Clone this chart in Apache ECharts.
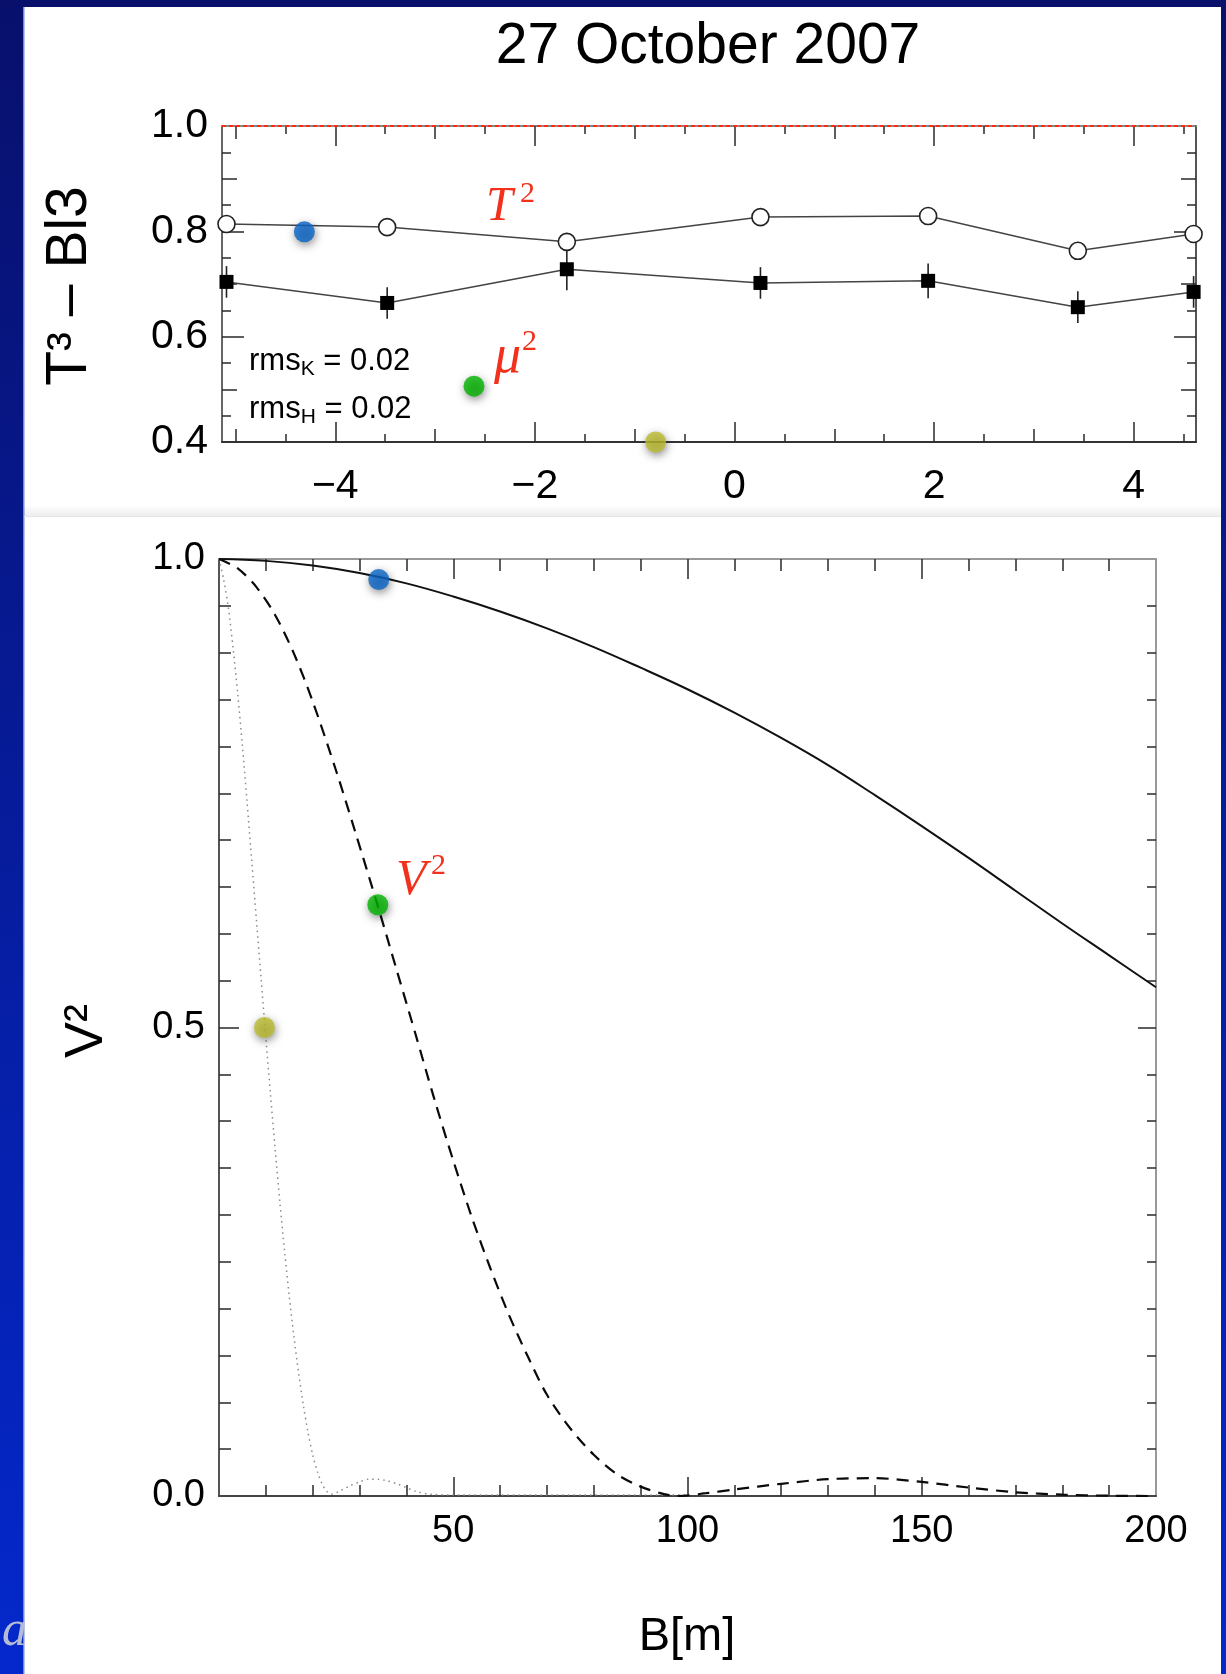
<!DOCTYPE html>
<html>
<head>
<meta charset="utf-8">
<script src="https://cdn.jsdelivr.net/npm/echarts@6/dist/echarts.min.js"></script>
<style>
  html, body { margin: 0; padding: 0; background: #fff; }
  #main { width: 1226px; height: 1674px; }
</style>
</head>
<body>
<div id="main"></div>
<script>
// ---- Upper panel: squared closure amplitudes against hour angle ----
const hourAngle = [-5.09, -3.48, -1.68, 0.26, 1.94, 3.44, 4.60];
const t2Values  = [0.814, 0.808, 0.780, 0.827, 0.829, 0.763, 0.795];
const mu2Values = [0.704, 0.664, 0.728, 0.702, 0.706, 0.656, 0.685];
const mu2Errors = [0.030, 0.030, 0.040, 0.030, 0.033, 0.030, 0.030];
const upperXLabels = [-4, -2, 0, 2, 4];
const upperYLabels = [0.4, 0.6, 0.8, 1.0];
const upperHighlightX = [-4.31, -2.61, -0.79];
const upperHighlightY = [0.799, 0.506, 0.400];

// ---- Lower panel: squared visibility against baseline length ----
const baselineSolid = [0, 10, 20, 30, 40, 50, 60, 70, 80, 90, 100, 110, 120, 130, 140, 150, 160, 170, 180, 190, 200];
const v2Solid = [1.000, 0.998, 0.993, 0.985, 0.974, 0.960, 0.944, 0.926, 0.906, 0.884, 0.861, 0.836, 0.809, 0.780, 0.748, 0.715, 0.681, 0.646, 0.611, 0.577, 0.543];

const baselineDashed = [0, 4, 8, 12, 16, 20, 25, 29, 34, 38, 42, 46, 50, 54, 58, 62, 66, 70, 75, 80, 85, 90, 95, 98, 104, 110, 120, 130, 140, 150, 160, 170, 180, 190, 200];
const v2Dashed = [1.000, 0.990, 0.970, 0.940, 0.899, 0.848, 0.774, 0.710, 0.628, 0.560, 0.492, 0.423, 0.358, 0.297, 0.242, 0.192, 0.148, 0.108, 0.072, 0.044, 0.023, 0.010, 0.002, 0.000, 0.003, 0.007, 0.013, 0.018, 0.019, 0.015, 0.009, 0.004, 0.0015, 0.0003, 0.000];

const baselineDotted = [0, 1, 2, 3, 4, 5, 6, 7, 8, 9, 10, 11, 12, 13, 14, 15, 16, 17, 18, 19, 20, 21, 22, 23, 24, 26, 28, 30, 32, 34, 36, 38, 40, 42, 45, 50, 60, 70, 80, 90, 100];
const v2Dotted = [1.000, 0.978, 0.948, 0.905, 0.856, 0.800, 0.740, 0.677, 0.614, 0.551, 0.489, 0.428, 0.369, 0.313, 0.261, 0.213, 0.170, 0.131, 0.097, 0.068, 0.044, 0.026, 0.013, 0.005, 0.002, 0.006, 0.011, 0.015, 0.018, 0.018, 0.016, 0.013, 0.009, 0.005, 0.002, 0.001, 0.001, 0.001, 0.001, 0.001, 0.001];

const lowerXLabels = [50, 100, 150, 200];
const lowerYLabels = [0.0, 0.5, 1.0];
const lowerHighlightX = [34.1, 33.9, 9.7];
const lowerHighlightY = [0.978, 0.631, 0.500];

// ---- helpers ----
const FONT = '"Liberation Sans", Arial, Helvetica, sans-serif';
const SERIF = '"Liberation Serif", "DejaVu Serif", serif';
const RED = '#f2301c';
const highlightColors = ['#0a64c8', '#00b400', '#bcbc30'];

function steps(from, to, step, skipEvery) {
  const out = [];
  const n = Math.round((to - from) / step);
  for (let i = 0; i <= n; i++) {
    const v = +(from + i * step).toFixed(4);
    if (skipEvery && Math.abs(v / skipEvery - Math.round(v / skipEvery)) < 1e-6) continue;
    out.push(v);
  }
  return out;
}

const xAxes = [];
const yAxes = [];
// Several value axes share one side of a grid so that ticks of different lengths can be drawn.
function addAxisSide(list, grid, pos, min, max, groups, lineColor, labels) {
  const first = list.length;
  groups.forEach((g, i) => {
    const main = i === 0;
    list.push({
      type: 'value', gridIndex: grid, position: pos, min: min, max: max,
      axisLine: { show: main && !!lineColor, onZero: false, lineStyle: { color: lineColor || '#000', width: 2 } },
      axisTick: { show: true, inside: true, length: g.len, customValues: g.values, lineStyle: { color: '#2a2a2a', width: 1.5 } },
      axisLabel: (main && labels) ? Object.assign({ show: true, customValues: labels.values }, labels.style) : { show: false },
      splitLine: { show: false },
      splitArea: { show: false }
    });
  });
  return first;
}

const minus = v => (v < 0 ? '\u2212' + Math.abs(v) : String(v));
const upperLabelStyle = { color: '#000', fontFamily: FONT, fontSize: 41 };
const lowerLabelStyle = { color: '#000', fontFamily: FONT, fontSize: 38 };

// Upper grid axes
const upMin = -5.135, upMax = 4.624;
const upTicksLong = [-4, -2, 0, 2, 4];
const upTicksMid = [-5, -3, -1, 1, 3];
const upTicksShort = steps(-4.5, 4.5, 1);
const upX = addAxisSide(xAxes, 0, 'bottom', upMin, upMax,
  [{ values: upTicksLong, len: 20 }, { values: upTicksMid, len: 13 }, { values: upTicksShort, len: 8 }],
  '#333', { values: upperXLabels, style: Object.assign({ margin: 24, formatter: minus }, upperLabelStyle) });
addAxisSide(xAxes, 0, 'top', upMin, upMax,
  [{ values: upTicksLong, len: 20 }, { values: upTicksMid, len: 13 }, { values: upTicksShort, len: 8 }], '#888');

const upYLong = [0.6, 0.8];
const upYMid = [0.5, 0.7, 0.9];
const upYShort = steps(0.45, 0.95, 0.1);
const upY = addAxisSide(yAxes, 0, 'left', 0.4, 1.0,
  [{ values: upYLong, len: 22 }, { values: upYMid, len: 15 }, { values: upYShort, len: 9 }],
  '#666', { values: upperYLabels, style: Object.assign({ margin: 14, formatter: v => v.toFixed(1) }, upperLabelStyle) });
addAxisSide(yAxes, 0, 'right', 0.4, 1.0,
  [{ values: upYLong, len: 22 }, { values: upYMid, len: 15 }, { values: upYShort, len: 9 }], '#555');

// Lower grid axes
const loXLong = [50, 100, 150];
const loXShort = steps(10, 190, 10, 50);
const loX = addAxisSide(xAxes, 1, 'bottom', 0, 200,
  [{ values: loXLong, len: 19 }, { values: loXShort, len: 11 }],
  '#444', { values: lowerXLabels, style: Object.assign({ margin: 17 }, lowerLabelStyle) });
addAxisSide(xAxes, 1, 'top', 0, 200,
  [{ values: loXLong, len: 20 }, { values: loXShort, len: 12 }], '#999');

const loYLong = [0.5];
const loYShort = steps(0.05, 0.95, 0.05, 0.5);
const loY = addAxisSide(yAxes, 1, 'left', 0, 1,
  [{ values: loYLong, len: 20 }, { values: loYShort, len: 12 }],
  '#555', { values: lowerYLabels, style: Object.assign({ margin: 14, formatter: v => v.toFixed(1) }, lowerLabelStyle) });
addAxisSide(yAxes, 1, 'right', 0, 1,
  [{ values: loYLong, len: 18 }, { values: loYShort, len: 9 }], '#999');

const pairs = (xs, ys) => xs.map((x, i) => [x, ys[i]]);
const dotStyle = { shadowBlur: 9, shadowColor: 'rgba(0,0,0,0.55)', shadowOffsetX: 1, shadowOffsetY: 3 };
const highlights = (xs, ys) => xs.map((x, i) => ({ value: [x, ys[i]], itemStyle: { color: highlightColors[i] } }));

// ---- text decorations ----
const measureCtx = document.createElement('canvas').getContext('2d');
function textWidth(str, size, family) {
  measureCtx.font = size + 'px ' + family;
  return measureCtx.measureText(str).width;
}
function text(x, y, str, size, extra) {
  return {
    type: 'text', x: x, y: y, z: 60,
    style: Object.assign({ text: str, fontSize: size, fontFamily: FONT, fill: '#000', align: 'left', verticalAlign: 'middle' }, extra || {})
  };
}
function rmsLabel(x, y, sub) {
  const w1 = textWidth('rms', 31, FONT);
  const w2 = textWidth(sub, 21, FONT);
  return [
    text(x, y, 'rms', 31),
    text(x + w1, y + 8, sub, 21),
    text(x + w1 + w2, y, ' = 0.02', 31)
  ];
}
const mathItalic = { fontFamily: SERIF, fontStyle: 'italic', fill: RED };
const mathUpright = { fontFamily: SERIF, fill: RED };

const graphics = [
  // frame around the white page
  { type: 'rect', z: 1, shape: { x: 0, y: 0, width: 23, height: 1674 },
    style: { fill: new echarts.graphic.LinearGradient(0, 0, 0, 1, [{ offset: 0, color: '#08106c' }, { offset: 1, color: '#0428cc' }]) } },
  { type: 'rect', z: 1, shape: { x: 23, y: 0, width: 1.5, height: 1674 }, style: { fill: '#7486e0' } },
  { type: 'rect', z: 1, shape: { x: 0, y: 0, width: 1226, height: 7 }, style: { fill: '#08106c' } },
  { type: 'rect', z: 1, shape: { x: 1221, y: 0, width: 5, height: 1674 },
    style: { fill: new echarts.graphic.LinearGradient(0, 0, 0, 1, [{ offset: 0, color: '#08106c' }, { offset: 1, color: '#0428cc' }]) } },
  // soft divider between the two panels
  { type: 'rect', z: 1, shape: { x: 24, y: 505, width: 1197, height: 11 },
    style: { fill: new echarts.graphic.LinearGradient(0, 0, 0, 1, [{ offset: 0, color: 'rgba(0,0,0,0)' }, { offset: 1, color: 'rgba(0,0,0,0.07)' }]) } },
  { type: 'rect', z: 1, shape: { x: 24, y: 516, width: 1197, height: 1 }, style: { fill: '#e4e4e4' } },
  text(2, 1632, 'a', 50, { fontFamily: SERIF, fontStyle: 'italic', fill: '#b4bcd6' }),

  // title and axis names
  text(708, 47, '27 October 2007', 57, { align: 'center' }),
  Object.assign(text(70, 286, 'T\u00b3 \u2013 Bl3', 57, { align: 'center' }), { rotation: Math.PI / 2 }),
  Object.assign(text(87, 1031, 'V\u00b2', 54, { align: 'center' }), { rotation: Math.PI / 2 }),
  text(687, 1637, 'B[m]', 47, { align: 'center' }),

  // red math labels
  text(486, 207, 'T', 48, mathItalic),
  text(520, 194, '2', 30, mathUpright),
  text(494, 358, '\u03bc', 54, mathItalic),
  text(522, 342, '2', 30, mathUpright),
  text(396, 881, 'V', 50, mathItalic),
  text(431, 866, '2', 30, mathUpright)
].concat(rmsLabel(249, 361, 'K'), rmsLabel(249, 409, 'H'));

const option = {
  backgroundColor: '#fff',
  animation: false,
  grid: [
    { left: 222, top: 126, width: 974, height: 316, outerBoundsMode: 'none', containLabel: false },
    { left: 219, top: 559, width: 937, height: 937, outerBoundsMode: 'none', containLabel: false }
  ],
  xAxis: xAxes,
  yAxis: yAxes,
  graphic: graphics,
  series: [
    {
      name: 'T2', type: 'line', xAxisIndex: upX, yAxisIndex: upY,
      data: pairs(hourAngle, t2Values),
      symbol: 'circle', symbolSize: 17,
      itemStyle: { color: '#fff', borderColor: '#222', borderWidth: 1.6 },
      lineStyle: { color: '#444', width: 1.5 },
      z: 5,
      markLine: {
        silent: true, symbol: 'none', label: { show: false },
        lineStyle: { color: '#ff2a10', type: [4, 3], width: 2 },
        data: [{ yAxis: 1.0 }]
      }
    },
    {
      name: 'mu2', type: 'line', xAxisIndex: upX, yAxisIndex: upY,
      data: pairs(hourAngle, mu2Values),
      symbol: 'rect', symbolSize: 14,
      itemStyle: { color: '#000' },
      lineStyle: { color: '#444', width: 1.5 },
      z: 5
    },
    {
      name: 'mu2 error', type: 'custom', coordinateSystem: 'cartesian2d', xAxisIndex: upX, yAxisIndex: upY,
      data: hourAngle.map((x, i) => [x, mu2Values[i], mu2Errors[i]]),
      encode: { x: 0, y: 1 },
      z: 4,
      renderItem: function (params, api) {
        const x = api.value(0), y = api.value(1), e = api.value(2);
        const p1 = api.coord([x, y - e]);
        const p2 = api.coord([x, y + e]);
        return { type: 'line', shape: { x1: p1[0], y1: p1[1], x2: p2[0], y2: p2[1] }, style: { stroke: '#222', lineWidth: 1.6 } };
      }
    },
    {
      name: 'upper highlights', type: 'scatter', xAxisIndex: upX, yAxisIndex: upY,
      data: highlights(upperHighlightX, upperHighlightY),
      symbolSize: 21, clip: false, itemStyle: dotStyle, z: 20
    },
    {
      name: 'dotted', type: 'line', xAxisIndex: loX, yAxisIndex: loY,
      data: pairs(baselineDotted, v2Dotted),
      symbol: 'none', smooth: 0.3,
      lineStyle: { color: '#8a8a8a', width: 1.5, type: [1.5, 4] },
      z: 4
    },
    {
      name: 'dashed', type: 'line', xAxisIndex: loX, yAxisIndex: loY,
      data: pairs(baselineDashed, v2Dashed),
      symbol: 'none', smooth: 0.3,
      lineStyle: { color: '#0a0a0a', width: 2.2, type: [12, 8] },
      z: 4
    },
    {
      name: 'solid', type: 'line', xAxisIndex: loX, yAxisIndex: loY,
      data: pairs(baselineSolid, v2Solid),
      symbol: 'none', smooth: 0.4,
      lineStyle: { color: '#111', width: 2 },
      z: 4
    },
    {
      name: 'lower highlights', type: 'scatter', xAxisIndex: loX, yAxisIndex: loY,
      data: highlights(lowerHighlightX, lowerHighlightY),
      symbolSize: 21, clip: false, itemStyle: dotStyle, z: 20
    }
  ]
};

const chart = echarts.init(document.getElementById('main'), null, { renderer: 'canvas' });
chart.setOption(option);
</script>
</body>
</html>
